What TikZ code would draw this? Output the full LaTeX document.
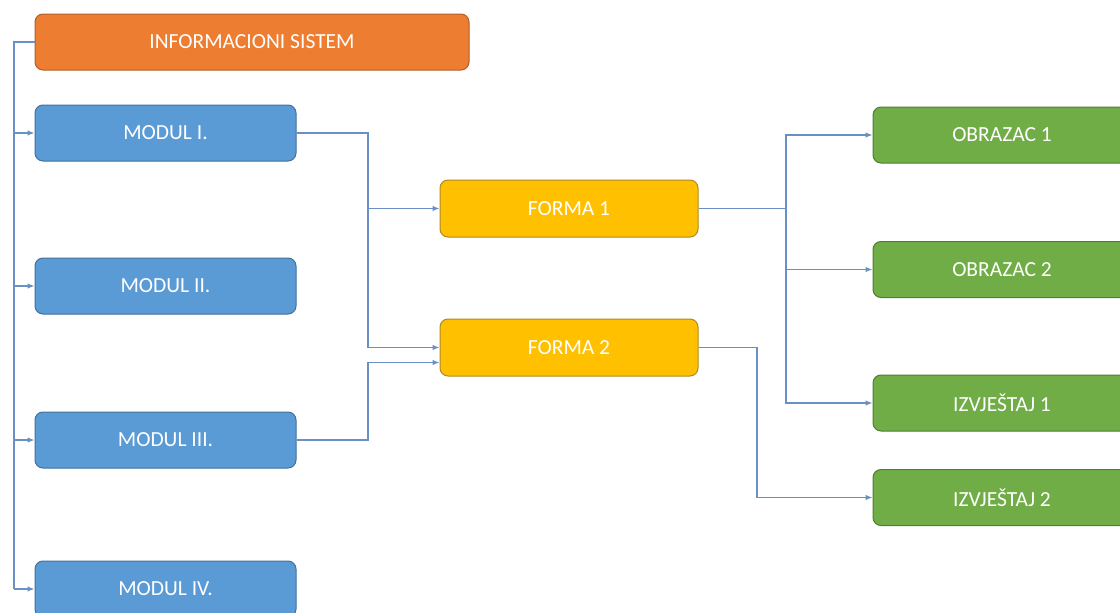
\documentclass[tikz,border=0pt]{standalone}
\usepackage{fontspec}
\setmainfont{Carlito}
\usetikzlibrary{arrows.meta}

\definecolor{isorange}{HTML}{ED7D31}
\definecolor{isorangeb}{HTML}{B0602A}
\definecolor{modblue}{HTML}{5B9BD5}
\definecolor{modblueb}{HTML}{41719C}
\definecolor{formyel}{HTML}{FFC000}
\definecolor{formyelb}{HTML}{B08A1E}
\definecolor{outgreen}{HTML}{70AD47}
\definecolor{outgreenb}{HTML}{507E32}
\definecolor{wire}{RGB}{104,144,194}

\tikzset{
  box/.style={rectangle, rounded corners=8pt, line width=1pt, text=white,
    font=\fontsize{21.5}{24}\selectfont, minimum height=56pt, inner sep=0pt},
  sysbox/.style={box, fill=isorange, draw=isorangeb, minimum width=434pt},
  modbox/.style={box, fill=modblue, draw=modblueb, minimum width=261pt},
  formbox/.style={box, fill=formyel, draw=formyelb, minimum width=258pt, minimum height=57pt},
  outbox/.style={box, fill=outgreen, draw=outgreenb, minimum width=258pt},
  wireline/.style={draw=wire, line width=1.2pt},
  arr/.style={wireline, -{Latex[length=7pt,width=5.5pt]}}
}

\begin{document}
\begin{tikzpicture}[x=1pt, y=-1pt]
  \clip (0,0) rectangle (1120,613);
  \fill[white] (0,0) rectangle (1120,613);

  % main system and its modules
  \node[sysbox] (info) at (252,42) {INFORMACIONI SISTEM};
  \node[modbox] (m1) at (165.5,133) {MODUL I.};
  \node[modbox] (m2) at (165.5,286) {MODUL II.};
  \node[modbox] (m3) at (165.5,440) {MODUL III.};
  \node[modbox] (m4) at (165.5,589) {MODUL IV.};

  % forms
  \node[formbox] (f1) at (569,208.5) {FORMA 1};
  \node[formbox] (f2) at (569,347.5) {FORMA 2};

  % outputs
  \node[outbox] (o1) at (1002,135) {OBRAZAC 1};
  \node[outbox] (o2) at (1002,269.5) {OBRAZAC 2};
  \node[outbox] (i1) at (1002,403) {IZVJEŠTAJ 1};
  \node[outbox] (i2) at (1002,497.5) {IZVJEŠTAJ 2};

  % routing columns
  \coordinate (bus) at (14,42);
  \coordinate (j1) at (368,0);
  \coordinate (j2) at (786,0);
  \coordinate (j3) at (757,0);

  % system to modules
  \draw[wireline] (info.west) -- (bus) -- (bus |- m4.west);
  \foreach \m in {m1,m2,m3,m4}
    \draw[arr] (bus |- \m.west) -- (\m.west);

  % modules to forms
  \draw[arr] (m1.east) -- (m1.east -| j1) |- (f1.west);
  \draw[arr] (m1.east) -- (m1.east -| j1) |- (f2.west);
  \draw[arr] (m3.east) -- (m3.east -| j1) |- ([yshift=-15pt]f2.west);

  % forms to outputs
  \draw[arr] (f1.east) -- (f1.east -| j2) |- (o1.west);
  \draw[arr] (f1.east) -- (f1.east -| j2) |- (o2.west);
  \draw[arr] (f1.east) -- (f1.east -| j2) |- (i1.west);
  \draw[arr] (f2.east) -- (f2.east -| j3) |- (i2.west);
\end{tikzpicture}
\end{document}
